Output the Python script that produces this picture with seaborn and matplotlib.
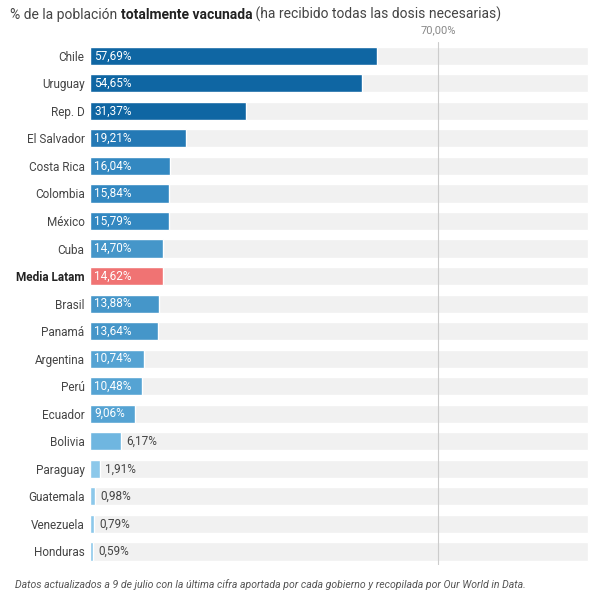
import matplotlib
matplotlib.use("Agg")
import matplotlib.pyplot as plt
import seaborn as sns
import pandas as pd

countries = ["Chile","Uruguay","Rep. D","El Salvador","Costa Rica","Colombia","México","Cuba",
             "Media Latam","Brasil","Panamá","Argentina","Perú","Ecuador","Bolivia","Paraguay",
             "Guatemala","Venezuela","Honduras"]
values = [57.69,54.65,31.37,19.21,16.04,15.84,15.79,14.70,14.62,13.88,13.64,10.74,10.48,9.06,6.17,1.91,0.98,0.79,0.59]
colors = ["#0f66a3","#0f66a3","#0f66a3","#2479b5","#3388c1","#3388c1","#3388c1","#4596c9",
          "#f07373","#4596c9","#4596c9","#55a3d3","#55a3d3","#55a3d3","#6fb6e0","#8cc8ea",
          "#8cc8ea","#8cc8ea","#8cc8ea"]

sns.set_theme(style="white")
plt.rcParams['font.family'] = ['Roboto', 'DejaVu Sans']
fig = plt.figure(figsize=(5.93, 6.0), dpi=100)
ax = fig.add_axes([0.152, 0.058, 0.843, 0.872])
df = pd.DataFrame({"c": countries, "v": values})
sns.barplot(data=df, y="c", x=[100]*len(countries), color="#f1f1f1", saturation=1, width=0.66, ax=ax, orient="h")
ax.axvline(70, color="#cccccc", lw=0.8, zorder=1.5)
sns.barplot(data=df, y="c", x="v", hue="c", palette=colors, saturation=1, legend=False, width=0.66, ax=ax, orient="h")
for p in ax.patches[len(countries):]:
    p.set_zorder(2)
ax.set_xlim(0, 100.5)
ax.text(70, -0.75, "70,00%", ha="center", va="bottom", fontsize=8, color="#888888")
for i, v in enumerate(values):
    s = f"{v:.2f}".replace(".", ",") + "%"
    if v > 8:
        ax.text(0.8, i, s, va="center", ha="left", color="white", fontsize=8.5, zorder=3)
    else:
        ax.text(v + 1.0, i, s, va="center", ha="left", color="#444444", fontsize=8.5, zorder=3)
ax.set_xlabel(""); ax.set_ylabel("")
ax.set_xticks([])
ax.tick_params(axis="y", length=0, pad=4, labelsize=8.5, labelcolor="#444444")
for lab in ax.get_yticklabels():
    if lab.get_text() == "Media Latam":
        lab.set_fontweight("bold"); lab.set_color("#222222")
for s in ax.spines.values():
    s.set_visible(False)

t1 = fig.text(0.017, 0.975, "% de la población ", fontsize=10, color="#444444", va="center")
t2 = ax.annotate("totalmente vacunada", xy=(1, 0), xycoords=t1, fontsize=10, color="#222222",
                 weight="bold", va="bottom", ha="left", annotation_clip=False)
ax.annotate(" (ha recibido todas las dosis necesarias)", xy=(1, 0), xycoords=t2, fontsize=10,
            color="#444444", va="bottom", ha="left", annotation_clip=False)
fig.text(0.025, 0.025, "Datos actualizados a 9 de julio con la última cifra aportada por cada gobierno y recopilada por Our World in Data.",
         fontsize=7.6, style="italic", color="#555555", va="center")
fig.savefig("out.png", dpi=100, facecolor="white")
